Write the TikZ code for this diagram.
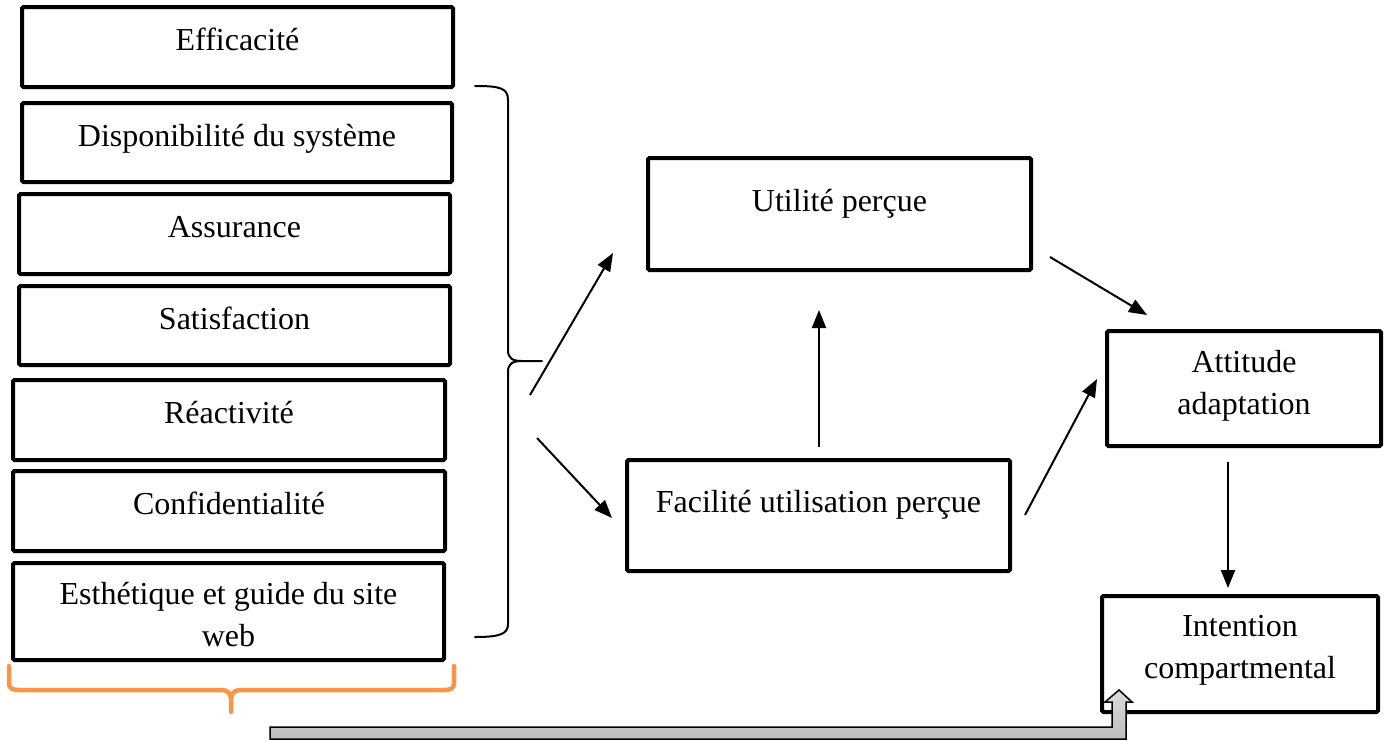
\documentclass[tikz,border=0pt]{standalone}
\usepackage{fontspec}
\setmainfont{Liberation Serif}
\usetikzlibrary{arrows.meta}
\definecolor{bracegold}{HTML}{F79646}
\definecolor{bandtop}{HTML}{DCDCDC}
\definecolor{bandbot}{HTML}{BDBDBD}
\begin{document}
\begin{tikzpicture}[x=1pt,y=-1pt,
  box/.style={draw=black, line width=4pt, rounded corners=1.5pt, inner sep=0pt, fill=white},
  lbl/.style={font=\fontsize{32}{42}\selectfont, anchor=base, inner sep=0pt, align=center},
  link/.style={draw=black, line width=2pt, -{Triangle[length=18pt,width=14pt]}},
  brace/.style={draw=black, line width=2pt, line cap=round, line join=round},
  goldbrace/.style={draw=bracegold, line width=4.5pt, line cap=round, line join=round}]
\useasboundingbox (0,0) rectangle (1386,740);

% quality dimensions (left column)
\node[box, minimum width=431pt, minimum height=80pt] (eff) at (237.5,47) {};
\node[box, minimum width=430pt, minimum height=79pt] (dis) at (237,142.5) {};
\node[box, minimum width=431pt, minimum height=80pt] (ass) at (234.5,234) {};
\node[box, minimum width=431pt, minimum height=79pt] (sat) at (234.5,325.5) {};
\node[box, minimum width=432pt, minimum height=80pt] (rea) at (229,420) {};
\node[box, minimum width=432pt, minimum height=80pt] (con) at (229,511) {};
\node[box, minimum width=431pt, minimum height=97pt] (est) at (228.5,611.5) {};

% labels sit on the baseline of their last line
\node[lbl] (efft) at (237.5,50) {Efficacité};
\node[lbl] (dist) at (237,146) {Disponibilité du système};
\node[lbl] (asst) at (234.5,237) {Assurance};
\node[lbl] (satt) at (234.5,329) {Satisfaction};
\node[lbl] (reat) at (229,423) {Réactivité};
\node[lbl] (cont) at (229,514) {Confidentialité};
\node[lbl] (estt) at (228.5,646) {Esthétique et guide du site\\web};

% model constructs
\node[box, minimum width=383pt, minimum height=112pt] (uti) at (839.5,214) {};
\node[box, minimum width=383pt, minimum height=111pt] (fac) at (818.5,515.5) {};
\node[box, minimum width=274pt, minimum height=115pt] (att) at (1244,388.5) {};
\node[box, minimum width=276pt, minimum height=116pt] (int) at (1240,654) {};

\node[lbl] (utit) at (839.5,211) {Utilité perçue};
\node[lbl] (fact) at (818.5,512) {Facilité utilisation perçue};
\node[lbl] (attt) at (1244,414) {Attitude\\adaptation};
\node[lbl] (intt) at (1240,678) {Intention\\compartmental};

% grouping brace for the dimensions
\draw[brace] (475,86) .. controls (500,86) and (508,88) .. (508,100)
  -- (508,350) .. controls (508,358) and (512,361) .. (522,361) -- (542,361)
  (522,361) .. controls (512,361) and (508,364) .. (508,372)
  -- (508,624) .. controls (508,634) and (500,637) .. (475,637);

% orange brace under the column
\draw[goldbrace] (9,666) -- (9,682) .. controls (9,689) and (12,690) .. (20,690)
  -- (222,690) .. controls (228,690) and (231,694) .. (231,700) -- (231,712)
  (231,700) .. controls (231,694) and (234,690) .. (240,690)
  -- (443,690) .. controls (451,690) and (454,689) .. (454,682) -- (454,666);

% arrow end points
\coordinate (b1) at (530,395);  \coordinate (u1) at (613,253);
\coordinate (b2) at (537,438);  \coordinate (f1) at (612,518);
\coordinate (f2) at (819,447);  \coordinate (u2) at (819,310);
\coordinate (u3) at (1050,257); \coordinate (a1) at (1147,315);
\coordinate (f3) at (1025,515); \coordinate (a2) at (1097,379);
\coordinate (a3) at (1228,462); \coordinate (i1) at (1228,588);

\draw[link] (b1) -- (u1);
\draw[link] (b2) -- (f1);
\draw[link] (f2) -- (u2);
\draw[link] (u3) -- (a1);
\draw[link] (f3) -- (a2);
\draw[link] (a3) -- (i1);

% grey bent arrow into the intention box
\draw[black, line width=1.5pt, line join=miter, top color=bandtop, bottom color=bandbot]
  (270,727) -- (1112,727) -- (1112,702) -- (1105,702) -- (1119,690)
  -- (1132,702) -- (1126,702) -- (1126,739) -- (270,739) -- cycle;
\end{tikzpicture}
\end{document}
